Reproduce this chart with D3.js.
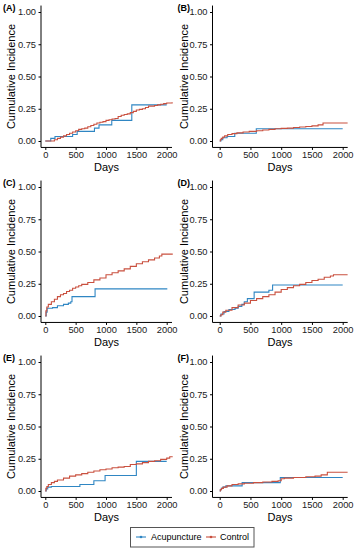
<!DOCTYPE html>
<html><head><meta charset="utf-8">
<script src="https://cdn.jsdelivr.net/npm/d3@7"></script>
<style>
html,body{margin:0;padding:0;background:#fff;}
svg{display:block;font-family:"Liberation Sans",Arial,Helvetica,sans-serif;}
</style></head>
<body><svg id="chart" width="354" height="550"></svg>
<script>
// ---- data ----
const panelTags = ["(A)","(B)","(C)","(D)","(E)","(F)"];
const groups = ["Acupuncture","Control"];
const groupColors = ["#2f86c3","#c9503f"];
const xTicks = [0,500,1000,1500,2000];
const yTicks = [0,0.25,0.5,0.75,1];
const yTickLabels = ["0.00","0.25","0.50","0.75","1.00"];

// [day, cumulative incidence] step points
const acuA = [[0,0],[90,0],[90,0.02],[160,0.035],[450,0.05],[525,0.075],[810,0.10],[885,0.125],[1095,0.16],[1425,0.28],[2000,0.28]];
const ctlA = [[0,0],[100,0],[150,0.01],[200,0.02],[250,0.03],[300,0.04],[350,0.05],[400,0.06],[450,0.07],[500,0.08],[550,0.09],[600,0.095],[650,0.10],[700,0.11],[750,0.12],[800,0.13],[850,0.14],[900,0.145],[950,0.15],[1000,0.16],[1050,0.165],[1100,0.17],[1150,0.175],[1200,0.19],[1250,0.20],[1300,0.205],[1350,0.21],[1400,0.22],[1450,0.23],[1500,0.24],[1550,0.245],[1600,0.25],[1650,0.26],[1700,0.27],[1800,0.275],[1850,0.28],[1900,0.285],[1950,0.29],[2000,0.295],[2090,0.30]];

const acuB = [[0,0],[20,0.01],[50,0.025],[120,0.035],[245,0.06],[595,0.095],[2000,0.095]];
const ctlB = [[0,0],[10,0.01],[25,0.02],[50,0.03],[80,0.04],[130,0.05],[200,0.057],[280,0.063],[380,0.07],[480,0.075],[600,0.08],[700,0.085],[800,0.09],[900,0.095],[1000,0.098],[1100,0.10],[1200,0.105],[1300,0.108],[1400,0.112],[1500,0.117],[1600,0.125],[1680,0.14],[2080,0.14]];

const acuC = [[0,0],[15,0.03],[30,0.06],[120,0.065],[200,0.08],[300,0.09],[380,0.10],[420,0.11],[440,0.15],[820,0.21],[2010,0.21]];
const ctlC = [[0,0],[10,0.04],[25,0.07],[50,0.09],[100,0.11],[150,0.13],[200,0.15],[250,0.165],[300,0.175],[350,0.19],[400,0.20],[450,0.215],[500,0.225],[550,0.235],[600,0.245],[700,0.26],[800,0.28],[900,0.295],[1000,0.32],[1100,0.335],[1200,0.35],[1300,0.365],[1400,0.385],[1500,0.405],[1600,0.42],[1700,0.435],[1800,0.45],[1880,0.465],[1920,0.48],[2100,0.48]];

const acuD = [[0,0],[20,0.015],[70,0.035],[150,0.05],[250,0.06],[300,0.075],[360,0.09],[400,0.11],[450,0.135],[560,0.185],[800,0.20],[860,0.24],[2000,0.24]];
const ctlD = [[0,0],[20,0.01],[50,0.03],[100,0.045],[200,0.065],[300,0.085],[400,0.10],[500,0.12],[600,0.135],[700,0.15],[800,0.165],[900,0.185],[1000,0.205],[1100,0.22],[1200,0.235],[1300,0.245],[1400,0.26],[1500,0.275],[1600,0.285],[1700,0.30],[1800,0.31],[1850,0.32],[2080,0.32]];

const acuE = [[0,0],[15,0.015],[40,0.03],[100,0.035],[570,0.05],[800,0.08],[985,0.12],[1500,0.23],[2000,0.23]];
const ctlE = [[0,0],[10,0.02],[25,0.035],[50,0.05],[100,0.065],[150,0.075],[200,0.085],[300,0.10],[400,0.115],[500,0.125],[600,0.135],[700,0.145],[800,0.155],[900,0.165],[1000,0.17],[1100,0.18],[1200,0.185],[1300,0.19],[1400,0.205],[1500,0.21],[1600,0.22],[1700,0.23],[1800,0.235],[1900,0.245],[2000,0.255],[2050,0.265],[2090,0.27]];

const acuF = [[0,0],[10,0.01],[25,0.02],[50,0.03],[100,0.04],[365,0.065],[985,0.105],[2000,0.105]];
const ctlF = [[0,0],[10,0.01],[30,0.02],[60,0.03],[120,0.04],[200,0.05],[300,0.055],[400,0.06],[550,0.065],[700,0.07],[850,0.075],[950,0.08],[1000,0.095],[1050,0.10],[1200,0.105],[1400,0.11],[1550,0.115],[1650,0.125],[1750,0.145],[2080,0.145]];

const panelSeries = [[acuA,ctlA],[acuB,ctlB],[acuC,ctlC],[acuD,ctlD],[acuE,ctlE],[acuF,ctlF]];

// ---- layout ----
const svg = d3.select("#chart");
const cols = [
  {axisX:41, right:172, x0:45.3, x2000:166.7, titleX:10.7, tagX:3},
  {axisX:212.5, right:347.7, x0:219.7, x2000:342.7, titleX:184, tagX:177.5}
];
const rowStep = 175;
const tickFont = 9.3, titleFont = 11;

panelSeries.forEach((series, i) => {
  const c = cols[i % 2];
  const r = Math.floor(i / 2);
  const oy = r * rowStep;
  const y1 = 12 + oy, y0 = 141 + oy;
  const yTop = y1 - 6.45, yBot = y0 + 6.45;
  const x = d3.scaleLinear().domain([0, 2000]).range([c.x0, c.x2000]);
  const y = d3.scaleLinear().domain([0, 1]).range([y0, y1]);
  const g = svg.append("g");

  // curves
  const line = d3.line().x(d => x(d[0])).y(d => y(d[1])).curve(d3.curveStepAfter);
  series.forEach((s, k) => {
    g.append("path").datum(s).attr("d", line)
      .attr("fill", "none").attr("stroke", groupColors[k])
      .attr("stroke-width", 1.1).attr("stroke-linejoin", "miter");
  });

  // x axis
  const xa = g.append("g").attr("transform", `translate(0,${yBot})`)
    .call(d3.axisBottom(x).tickValues(xTicks).tickSize(2.5).tickPadding(1).tickSizeOuter(0).tickFormat(d3.format("d")));
  xa.select(".domain").remove();
  xa.selectAll("text").attr("font-size", tickFont).attr("fill", "#1a1a1a").attr("font-family", null);
  xa.selectAll("line").attr("stroke", "#000");
  g.append("line").attr("x1", c.axisX).attr("x2", c.right).attr("y1", yBot).attr("y2", yBot)
    .attr("stroke", "#000").attr("stroke-width", 1);

  // y axis
  const ya = g.append("g").attr("transform", `translate(${c.axisX},0)`)
    .call(d3.axisLeft(y).tickValues(yTicks).tickSize(2.5).tickPadding(2.5).tickSizeOuter(0)
      .tickFormat((d, j) => yTickLabels[j]));
  ya.select(".domain").remove();
  ya.selectAll("text").attr("font-size", tickFont).attr("fill", "#1a1a1a").attr("font-family", null);
  ya.selectAll("line").attr("stroke", "#000");
  g.append("line").attr("x1", c.axisX).attr("x2", c.axisX).attr("y1", yTop).attr("y2", yBot)
    .attr("stroke", "#000").attr("stroke-width", 1);

  // titles
  g.append("text").attr("x", (c.axisX + c.right) / 2).attr("y", 170.5 + oy)
    .attr("text-anchor", "middle").attr("font-size", titleFont).attr("fill", "#000").text("Days");
  g.append("text").attr("transform", `translate(${c.titleX},${(yTop + yBot) / 2}) rotate(-90)`)
    .attr("text-anchor", "middle").attr("dy", "0.35em").attr("font-size", titleFont).attr("fill", "#000")
    .text("Cumulative Incidence");
  g.append("text").attr("x", c.tagX).attr("y", 11 + oy).attr("font-size", 9).attr("font-weight", "bold")
    .attr("fill", "#000").text(panelTags[i]);
});

// legend
const lg = svg.append("g");
lg.append("rect").attr("x", 130.5).attr("y", 527.5).attr("width", 123.5).attr("height", 19.5)
  .attr("fill", "#fff").attr("stroke", "#555").attr("stroke-width", 1);
const keyX = [136, 206];
const textX = [151, 220];
groups.forEach((name, k) => {
  lg.append("line").attr("x1", keyX[k]).attr("x2", keyX[k] + 10).attr("y1", 537).attr("y2", 537)
    .attr("stroke", groupColors[k]).attr("stroke-width", 1.1);
  lg.append("circle").attr("cx", keyX[k] + 5).attr("cy", 537).attr("r", 1.3).attr("fill", groupColors[k]);
  lg.append("text").attr("x", textX[k]).attr("y", 537).attr("dy", "0.35em")
    .attr("font-size", 9).attr("fill", "#000").text(name);
});
</script></body></html>
